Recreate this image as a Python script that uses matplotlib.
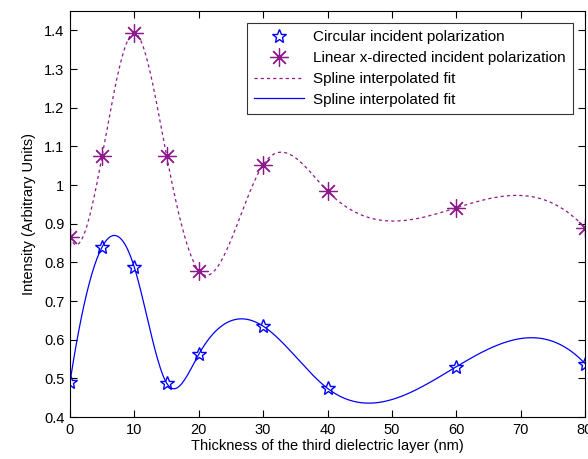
import numpy as np
import matplotlib
matplotlib.use("Agg")
import matplotlib.pyplot as plt

# measured points (thickness in nm)
thickness = [0, 5, 10, 15, 20, 30, 40, 60, 80]
circular = [0.49, 0.84, 0.787, 0.488, 0.562, 0.635, 0.474, 0.53, 0.538]
linear_x = [0.866, 1.076, 1.393, 1.076, 0.778, 1.052, 0.984, 0.941, 0.889]


def spline_notaknot(x, y, xq):
    """ cubic spline with not-a-knot ends (like MATLAB spline) """
    x = np.asarray(x, float)
    y = np.asarray(y, float)
    n = len(x)
    h = np.diff(x)
    A = np.zeros((n, n))
    b = np.zeros(n)
    for i in range(1, n - 1):
        A[i, i - 1] = h[i - 1]
        A[i, i] = 2 * (h[i - 1] + h[i])
        A[i, i + 1] = h[i]
        b[i] = 6 * ((y[i + 1] - y[i]) / h[i] - (y[i] - y[i - 1]) / h[i - 1])
    # third derivative continuous at second and second-last knots
    A[0, 0] = -1 / h[0]
    A[0, 1] = 1 / h[0] + 1 / h[1]
    A[0, 2] = -1 / h[1]
    A[-1, -3] = -1 / h[-2]
    A[-1, -2] = 1 / h[-2] + 1 / h[-1]
    A[-1, -1] = -1 / h[-1]
    M = np.linalg.solve(A, b)
    idx = np.clip(np.searchsorted(x, xq) - 1, 0, n - 2)
    x0, x1 = x[idx], x[idx + 1]
    hh = x1 - x0
    return (M[idx] * (x1 - xq) ** 3 / (6 * hh) + M[idx + 1] * (xq - x0) ** 3 / (6 * hh)
            + (y[idx] / hh - M[idx] * hh / 6) * (x1 - xq)
            + (y[idx + 1] / hh - M[idx + 1] * hh / 6) * (xq - x0))


plt.rcParams['font.family'] = ['Liberation Sans', 'DejaVu Sans']
purple = '#8c1a8c'
blue = '#0000ff'

fig = plt.figure(figsize=(5.88, 4.59), dpi=100)
ax = fig.add_axes([0.119, 0.0915, 0.876, 0.8845])

xs = np.linspace(0, 80, 400)
ax.plot(thickness, circular, linestyle='none', marker='*', markersize=10.5,
        markerfacecolor='none', markeredgecolor=blue, markeredgewidth=1.0,
        label='Circular incident polarization')
ax.plot(thickness, linear_x, linestyle='none', marker=(8, 2, 0), markersize=13,
        markeredgecolor=purple, markeredgewidth=0.9,
        label='Linear x-directed incident polarization')
ax.plot(thickness, linear_x, linestyle='none', marker='o', markersize=2.5,
        color=purple)
ax.plot(xs, spline_notaknot(thickness, linear_x, xs), linestyle=(0, (2.5, 2.5)),
        color=purple, linewidth=0.9, label='Spline interpolated fit')
ax.plot(xs, spline_notaknot(thickness, circular, xs), color=blue,
        linewidth=0.9, label='Spline interpolated fit')

ax.set_xlim(0, 80)
ax.set_ylim(0.4, 1.45)
ax.set_xticks(range(0, 81, 10))
ax.set_yticks(np.arange(0.4, 1.41, 0.1))
ax.set_yticklabels(['0.4', '0.5', '0.6', '0.7', '0.8', '0.9', '1',
                    '1.1', '1.2', '1.3', '1.4'])
ax.tick_params(direction='in', top=True, right=True, labelsize=10.5,
               length=5, width=0.8, pad=4)
for s in ax.spines.values():
    s.set_linewidth(0.8)
ax.set_xlabel('Thickness of the third dielectric layer (nm)', fontsize=10.5, labelpad=2)
ax.set_ylabel('Intensity (Arbitrary Units)', fontsize=10.5, labelpad=6)

leg = ax.legend(loc='upper right', fontsize=11, frameon=True, fancybox=False,
                edgecolor='black', borderaxespad=0.8, handlelength=3.3,
                handletextpad=0.6, labelspacing=0.45, borderpad=0.45)
leg.get_frame().set_linewidth(0.8)

fig.savefig('out.png', dpi=100)
